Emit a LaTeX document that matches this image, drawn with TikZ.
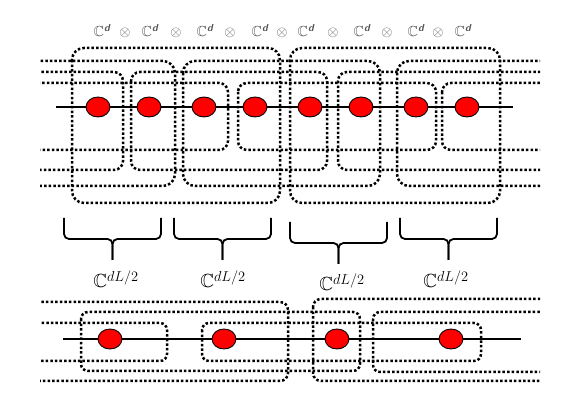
\documentclass[tikz,border=0pt]{standalone}
\usepackage{amsmath,amssymb}
\usetikzlibrary{shapes.geometric}
\definecolor{labgray}{RGB}{85,85,85}
\tikzset{
  blk/.style={line width=2.5pt, dash pattern=on 2.5pt off 2.1pt, rounded corners=#1},
  blk/.default=9pt,
  site/.style={ellipse, draw, fill=red, line width=0.9pt, minimum width=24pt, minimum height=20pt, inner sep=0pt},
  chain/.style={line width=1.6pt},
  brc/.style={line width=1.8pt, rounded corners=5pt},
}
\begin{document}
\begin{tikzpicture}[x=1pt,y=-1pt]
  \useasboundingbox (0,0) rectangle (581,411);

  %spazi locali
  \foreach \x [count=\i] in {102,150,205,260,306,362,416,463}
    \node[anchor=base, text=labgray, font=\fontsize{14.5}{16}\selectfont] (cd\i) at (\x,37) {$\mathbb{C}^{\textsf{\bfseries\itshape d}}$};
  \foreach \x [count=\i] in {125,176,230,282,333,387,438}
    \node[anchor=base, text=labgray, font=\fontsize{14.5}{16}\selectfont] (ot\i) at (\x,37) {$\otimes$};

  %blocchi sopra
  \begin{scope}
    \clip (40,0) rectangle (540,411);
    \draw[blk=12pt] (72,48) rectangle (280,203);
    \draw[blk=12pt] (290,48) rectangle (500,203);
    \draw[blk=12pt] (0,61) rectangle (175,186);
    \draw[blk=12pt] (183,61) rectangle (380,186);
    \draw[blk=12pt] (397,61) rectangle (600,186);
    \draw[blk] (0,72) rectangle (123,170);
    \draw[blk] (131,72) rectangle (327,170);
    \draw[blk] (338,72) rectangle (600,170);
    \draw[blk] (0,83) rectangle (228,150);
    \draw[blk] (238,83) rectangle (436,150);
    \draw[blk] (442,83) rectangle (600,150);
  \end{scope}

  %catena sopra
  \coordinate (tl) at (56,107);
  \coordinate (tr) at (513,107);
  \draw[chain] (tl) -- (tr);
  \foreach \x [count=\i] in {98,149,204,255,310,361,416,467}
    \node[site] (t\i) at (\x,107) {};

  %graffe
  \foreach \a/\b/\y [count=\i] in {64/161/218, 174/271/218, 290/387/222, 400/497/218}{
    \pgfmathsetmacro{\c}{(\a+\b)/2}
    \draw[brc] (\a,\y) -- (\a,\y+21) -- (\c,\y+21) -- (\c,\y+42);
    \draw[brc] (\b,\y) -- (\b,\y+21) -- (\c,\y+21) -- (\c,\y+42);
  }
  \foreach \x/\y [count=\i] in {116/288, 223/288, 342/291, 446/288}
    \node[anchor=base, font=\fontsize{19}{22}\selectfont] (cl\i) at (\x,\y) {$\mathbb{C}^{dL/2}$};

  %blocchi sotto
  \begin{scope}
    \clip (40,0) rectangle (540,411);
    \draw[blk=8pt] (0,302) rectangle (288,381);
    \draw[blk=8pt] (313,299) rectangle (600,381);
    \draw[blk=7pt] (81,312) rectangle (360,371);
    \draw[blk=7pt] (373,312) rectangle (600,372);
    \draw[blk=7pt] (0,323) rectangle (167,361);
    \draw[blk=7pt] (202,323) rectangle (481,361);
  \end{scope}

  %catena sotto
  \coordinate (bl) at (63,339);
  \coordinate (br) at (521,339);
  \draw[chain] (bl) -- (br);
  \foreach \x [count=\i] in {110,224,337,451}
    \node[site] (b\i) at (\x,339) {};
\end{tikzpicture}
\end{document}
